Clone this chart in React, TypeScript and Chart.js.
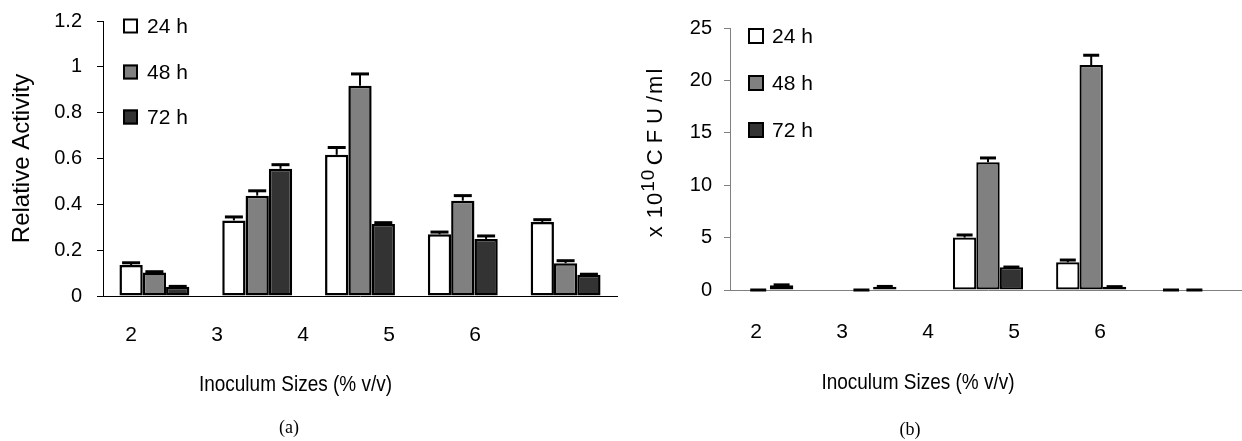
import React, { useEffect, useRef } from "react";
import { Chart, registerables } from "chart.js";

Chart.register(...registerables);

// ---------- data ----------
const categories = ["2", "3", "4", "5", "6"];
const seriesLabels = ["24 h", "48 h", "72 h"];
const seriesColors = ["#ffffff", "#808080", "#333333"];

// (a) Relative activity
const activity24 = [0.135, 0.33, 0.616, 0.269, 0.323];
const activity48 = [0.103, 0.438, 0.917, 0.416, 0.143];
const activity72 = [0.04, 0.555, 0.314, 0.249, 0.093];
const activityErr24 = [0.01, 0.015, 0.032, 0.01, 0.01];
const activityErr48 = [0.003, 0.021, 0.052, 0.022, 0.011];
const activityErr72 = [0.002, 0.018, 0.006, 0.013, 0.002];
const activityTicks = [0, 0.2, 0.4, 0.6, 0.8, 1, 1.2];

// (b) x 10^10 CFU/ml
const cfu24 = [0, 0, 5.0, 2.64, 0];
const cfu48 = [0.45, 0.3, 12.18, 21.47, 0];
const cfu72 = [0, 0, 2.16, 0.3, 0];
const cfuErr24 = [0, 0, 0.25, 0.22, 0];
const cfuErr48 = [0.04, 0.04, 0.42, 0.93, 0];
const cfuErr72: (number | null)[] = [null, null, 0.03, 0.02, null];
const cfuTicks = [0, 5, 10, 15, 20, 25];

const xTitle = "Inoculum Sizes (% v/v)";
const yTitleA = "Relative Activity";

const SANS = '"Liberation Sans", Arial, sans-serif';
const SERIF = '"Liberation Serif", "Times New Roman", serif';

function errorBarPlugin(errs: (number | null)[][], capW: number, color: string) {
  return {
    id: "errbars",
    afterDatasetsDraw(chart: any) {
      const ctx = chart.ctx;
      const ys = chart.scales.y;
      chart.data.datasets.forEach((ds: any, i: number) => {
        const meta = chart.getDatasetMeta(i);
        meta.data.forEach((el: any, j: number) => {
          const e = errs[i][j];
          if (e == null) return;
          const v = ds.data[j] as number;
          const top = ys.getPixelForValue(v + e);
          const base = ys.getPixelForValue(v);
          ctx.save();
          ctx.strokeStyle = color;
          ctx.lineWidth = 2;
          ctx.beginPath();
          ctx.moveTo(el.x, base);
          ctx.lineTo(el.x, top);
          ctx.stroke();
          ctx.lineWidth = 3;
          ctx.beginPath();
          ctx.moveTo(el.x - capW / 2, top);
          ctx.lineTo(el.x + capW / 2, top);
          ctx.stroke();
          ctx.restore();
        });
      });
    },
  };
}

function legendPlugin(boxX: number, box: number, textX: number, rows: number[], font: string) {
  return {
    id: "customLegend",
    afterDraw(chart: any) {
      const ctx = chart.ctx;
      ctx.save();
      chart.data.datasets.forEach((ds: any, i: number) => {
        const cy = rows[i];
        ctx.fillStyle = ds.backgroundColor;
        ctx.fillRect(boxX, cy - box / 2, box, box);
        ctx.strokeStyle = "#000";
        ctx.lineWidth = 2;
        ctx.strokeRect(boxX + 1, cy - box / 2 + 1, box - 2, box - 2);
        ctx.fillStyle = "#000";
        ctx.font = font;
        ctx.textAlign = "left";
        ctx.textBaseline = "middle";
        ctx.fillText(ds.label, textX, cy + 1);
      });
      ctx.restore();
    },
  };
}

function textPlugin(items: { text: string; x: number; y: number; font: string; sy?: number }[]) {
  return {
    id: "texts",
    afterDraw(chart: any) {
      const ctx = chart.ctx;
      items.forEach((it) => {
        ctx.save();
        ctx.fillStyle = "#000";
        ctx.textAlign = "center";
        ctx.textBaseline = "middle";
        ctx.font = it.font;
        ctx.translate(it.x, it.y);
        ctx.scale(1, it.sy || 1);
        ctx.fillText(it.text, 0, 0);
        ctx.restore();
      });
    },
  };
}

function cfuTitlePlugin(cx: number, cy: number) {
  return {
    id: "cfuTitle",
    afterDraw(chart: any) {
      const ctx = chart.ctx;
      const parts = [
        { t: "x 10", font: `22px ${SANS}`, dy: 0, ls: "1px" },
        { t: "10", font: `19px ${SANS}`, dy: -7, ls: "1px" },
        { t: " ", font: `12px ${SANS}`, dy: 0, ls: "0px" },
        { t: "CFU", font: `22px ${SANS}`, dy: 0, ls: "6px" },
        { t: "/ml", font: `22px ${SANS}`, dy: 0, ls: "2px" },
      ];
      ctx.save();
      ctx.translate(cx, cy);
      ctx.rotate(-Math.PI / 2);
      ctx.fillStyle = "#000";
      ctx.textBaseline = "middle";
      ctx.textAlign = "left";
      let total = 0;
      const widths = parts.map((p) => {
        ctx.font = p.font;
        (ctx as any).letterSpacing = p.ls;
        const w = ctx.measureText(p.t).width;
        total += w;
        return w;
      });
      let x = -total / 2;
      parts.forEach((p, i) => {
        ctx.font = p.font;
        (ctx as any).letterSpacing = p.ls;
        ctx.fillText(p.t, x, p.dy);
        x += widths[i];
      });
      ctx.restore();
    },
  };
}

function makeDatasets(values: number[][], bw: number) {
  return seriesLabels.map((label, i) => ({
    label,
    data: values[i],
    backgroundColor: seriesColors[i],
    borderColor: "#000",
    borderWidth: bw,
    borderSkipped: false,
    categoryPercentage: 0.68,
    barPercentage: 1,
    xAxisID: "x",
    yAxisID: "y",
  }));
}

function labelAxis(min: number, max: number, padding: number, height: number, color: string) {
  return {
    type: "linear",
    position: "bottom",
    offset: false,
    bounds: "data",
    min,
    max,
    grid: { display: false, drawTicks: false, offset: false },
    border: { display: true, color, width: 1 },
    ticks: {
      color: "#000",
      font: { family: SANS, size: 21 },
      padding,
      callback: (v: any) => String(v),
    },
    afterBuildTicks: (axis: any) => {
      axis.ticks = categories.map((c) => ({ value: Number(c) }));
    },
    afterFit: (s: any) => {
      s.height = height;
    },
  };
}

function valueAxis(max: number, tickVals: number[], color: string, padding: number, width: number, title?: any) {
  return {
    min: 0,
    max,
    afterBuildTicks: (axis: any) => {
      axis.ticks = tickVals.map((v) => ({ value: v }));
    },
    grid: { display: true, drawOnChartArea: false, drawTicks: true, tickLength: 6, color },
    border: { display: true, color, width: 1 },
    ticks: {
      color: "#000",
      font: { family: SANS, size: 20 },
      padding,
      callback: (v: any) => String(v),
    },
    title: title || { display: false },
    afterFit: (s: any) => {
      s.width = width;
      s.paddingTop = 8;
      s.paddingBottom = 8;
    },
  };
}

export default function App() {
  const refA = useRef<HTMLCanvasElement>(null);
  const refB = useRef<HTMLCanvasElement>(null);

  useEffect(() => {
    const chartA = new Chart(refA.current as HTMLCanvasElement, {
      type: "bar",
      data: {
        labels: categories,
        datasets: makeDatasets([activity24, activity48, activity72], 2.5) as any,
      },
      options: {
        animation: false,
        responsive: false,
        layout: { padding: { top: 21, right: 3, left: 0, bottom: 0 } },
        plugins: { legend: { display: false }, tooltip: { enabled: false } },
        scales: {
          x: { type: "category", display: false, offset: true },
          xl: labelAxis(1.674, 7.651, 27, 145, "#000") as any,
          y: valueAxis(1.2, activityTicks, "#000", 15, 103, {
            display: true,
            text: yTitleA,
            color: "#000",
            font: { family: SANS, size: 24 },
            padding: { top: 8, bottom: 0 },
          }) as any,
        },
      },
      plugins: [
        errorBarPlugin([activityErr24, activityErr48, activityErr72], 18, "#000"),
        legendPlugin(123, 15, 147, [26, 72, 117], `21px ${SANS}`),
        textPlugin([
          { text: xTitle, x: 295.5, y: 385, font: `19px ${SANS}`, sy: 1.15 },
          { text: "(a)", x: 289, y: 428, font: `18px ${SERIF}` },
        ]),
      ],
    });

    const chartB = new Chart(refB.current as HTMLCanvasElement, {
      type: "bar",
      data: {
        labels: categories,
        datasets: makeDatasets([cfu24, cfu48, cfu72], 2.2) as any,
      },
      options: {
        animation: false,
        responsive: false,
        layout: { padding: { top: 28, right: 4, left: 0, bottom: 0 } },
        plugins: { legend: { display: false }, tooltip: { enabled: false } },
        scales: {
          x: { type: "category", display: false, offset: true },
          xl: labelAxis(1.698, 7.698, 30, 151, "#808080") as any,
          y: valueAxis(25, cfuTicks, "#808080", 12, 110) as any,
        },
      },
      plugins: [
        errorBarPlugin([cfuErr24, cfuErr48, cfuErr72], 16, "#000"),
        legendPlugin(128, 16, 152, [36, 83, 130], `21px ${SANS}`),
        cfuTitlePlugin(36, 152),
        textPlugin([
          { text: xTitle, x: 298, y: 383, font: `19px ${SANS}`, sy: 1.15 },
          { text: "(b)", x: 290, y: 430, font: `18px ${SERIF}` },
        ]),
      ],
    });

    return () => {
      chartA.destroy();
      chartB.destroy();
    };
  }, []);

  return (
    <div
      style={{
        position: "fixed",
        left: 0,
        top: 0,
        width: 1242,
        height: 441,
        overflow: "hidden",
        background: "#fff",
      }}
    >
      <canvas ref={refA} width={620} height={441} style={{ position: "absolute", left: 0, top: 0 }} />
      <canvas ref={refB} width={630} height={441} style={{ position: "absolute", left: 620, top: 0 }} />
    </div>
  );
}
